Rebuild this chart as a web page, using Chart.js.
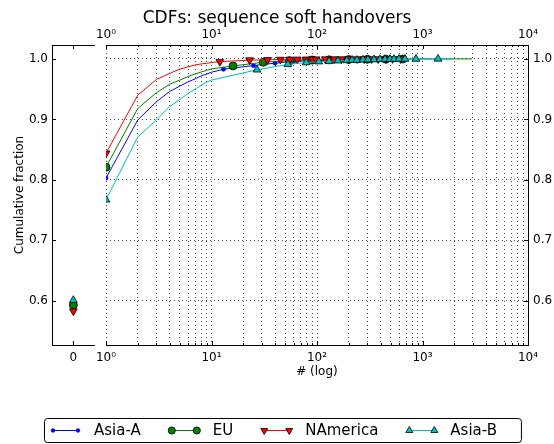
<!DOCTYPE html>
<html>
<head>
<meta charset="utf-8">
<script src="https://cdn.jsdelivr.net/npm/chart.js@4"></script>
<style>
  html, body { margin: 0; padding: 0; background: #fff; }
  #wrap { position: relative; width: 554px; height: 444px; }
  #wrap canvas { position: absolute; top: 0; left: 0; }
</style>
</head>
<body>
<div id="wrap">
  <canvas id="main" width="554" height="444"></canvas>
  <canvas id="zero" width="100" height="444"></canvas>
</div>
<script>
// series, in legend order
const seriesNames = ["Asia-A", "EU", "NAmerica", "Asia-B"];

// CDF value at x = 0 (left panel)
const zeroValues = [0.590, 0.593, 0.583, 0.601];

// CDF curves (x on log axis)
const asiaAX = [1, 2, 3, 4, 5, 6, 7, 8, 9, 10, 13, 25, 40, 60, 90, 130, 200, 300, 420, 550, 650];
const asiaAY = [0.803, 0.899, 0.929, 0.946, 0.955, 0.962, 0.967, 0.972, 0.975, 0.978, 0.983, 0.989, 0.993, 0.996, 0.997, 0.998, 0.999, 0.9994, 0.9997, 0.9999, 1.0];

const euX = [1, 2, 3, 4, 5, 6, 7, 8, 9, 10, 16, 31, 55, 90, 130, 200, 300, 450, 650, 2950];
const euY = [0.821, 0.918, 0.944, 0.958, 0.965, 0.971, 0.975, 0.9785, 0.981, 0.9835, 0.9884, 0.9945, 0.997, 0.998, 0.9985, 0.999, 0.9993, 0.9996, 0.9998, 1.0];

const naX = [1, 2, 3, 4, 5, 6, 7, 8, 9, 10, 12, 23, 34, 45, 55, 65, 79, 90, 98, 120, 145, 170, 200, 240, 280, 330, 380, 450, 520, 620, 700];
const naY = [0.844, 0.940, 0.966, 0.976, 0.983, 0.987, 0.990, 0.9917, 0.9928, 0.994, 0.9955, 0.998, 0.9985, 0.999, 0.9992, 0.9993, 0.9994, 0.9995, 0.9996, 0.9997, 0.9997, 0.9998, 0.9998, 0.9998, 0.9999, 0.9999, 0.9999, 1.0, 1.0, 1.0, 1.0];

const asiaBX = [1, 2, 3, 4, 5, 6, 7, 8, 9, 10, 27, 53, 79, 104, 130, 158, 192, 215, 239, 273, 304, 347, 395, 441, 492, 537, 599, 682, 868, 1403, 1950];
const asiaBY = [0.767, 0.871, 0.899, 0.921, 0.933, 0.943, 0.950, 0.9565, 0.9615, 0.965, 0.982, 0.991, 0.994, 0.9955, 0.996, 0.997, 0.9975, 0.998, 0.998, 0.9985, 0.9988, 0.999, 0.9992, 0.9993, 0.9995, 0.9996, 0.9997, 0.9998, 0.9999, 1.0, 1.0];

const yTicks = [0.6, 0.7, 0.8, 0.9, 1.0];
const decadeLabels = ["10\u2070", "10\u00b9", "10\u00b2", "10\u00b3", "10\u2074"];

const curvesX = [asiaAX, euX, naX, asiaBX];
const curvesY = [asiaAY, euY, naY, asiaBY];

const colors = ["#0000ff", "#008000", "#ff0000", "#00bfbf"];
const markers = [
  { style: "circle", radius: 2, rotation: 0, edge: "#0000ff" },
  { style: "circle", radius: 4, rotation: 0, edge: "#000" },
  { style: "triangle", radius: 4.5, rotation: 180, edge: "#000" },
  { style: "triangle", radius: 4.5, rotation: 0, edge: "#000" },
];

Chart.defaults.font.family = "DejaVu Sans";
Chart.defaults.font.size = 12;
Chart.defaults.color = "#000";

const Y_MIN = 0.527, Y_MAX = 1.023;
const gridColor = "rgba(0,0,0,0.7)";
const gridDash = [1, 3];

// log tick positions 1,2,..9,10,20,..10000
const logTicks = [];
for (let e = 0; e < 4; e++) for (let m = 1; m < 10; m++) logTicks.push(m * Math.pow(10, e));
logTicks.push(10000);

function isDecade(v) {
  const r = Math.round(Math.log10(v));
  return Math.pow(10, r) === v;
}
function decadeLabel(v) {
  return isDecade(v) ? decadeLabels[Math.round(Math.log10(v))] : "";
}

// matplotlib-like inward tick marks
const innerTicks = {
  id: "innerTicks",
  afterDraw(chart, args, opts) {
    const { ctx, chartArea: a, scales } = chart;
    ctx.save();
    ctx.strokeStyle = "#000";
    ctx.lineWidth = 1;
    const line = (x1, y1, x2, y2) => { ctx.beginPath(); ctx.moveTo(x1, y1); ctx.lineTo(x2, y2); ctx.stroke(); };
    (opts.scales || []).forEach(id => {
      const s = scales[id];
      if (!s) return;
      s.ticks.forEach(t => {
        const len = (s.type === "logarithmic" && !isDecade(t.value)) ? 2 : 4;
        const p = Math.round(s.getPixelForValue(t.value)) + 0.5;
        if (s.position === "bottom") line(p, a.bottom, p, a.bottom - len);
        else if (s.position === "top") line(p, a.top, p, a.top + len);
        else if (s.position === "left") line(a.left, p, a.left + len, p);
        else line(a.right, p, a.right - len, p);
      });
    });
    ctx.restore();
  }
};

// boxed legend with line + two markers per entry
const boxLegend = {
  id: "boxLegend",
  afterDraw(chart) {
    const ctx = chart.ctx;
    ctx.save();
    ctx.font = "15px 'DejaVu Sans'";
    ctx.textBaseline = "middle";
    const cy = 430, left = 44, top = 418, h = 24;
    let x = left + 9;
    const items = [];
    seriesNames.forEach((name, i) => {
      items.push({ x, i, name });
      x += 25 + 16 + ctx.measureText(name).width + 31;
    });
    const right = x - 31 + 24;
    ctx.fillStyle = "#fff";
    ctx.strokeStyle = "#000";
    ctx.lineWidth = 1;
    ctx.beginPath();
    ctx.roundRect(left + 0.5, top + 0.5, right - left, h, 3);
    ctx.fill();
    ctx.stroke();
    items.forEach(it => {
      const m = markers[it.i];
      ctx.strokeStyle = colors[it.i];
      ctx.lineWidth = 1;
      ctx.beginPath();
      ctx.moveTo(it.x, cy + 0.5);
      ctx.lineTo(it.x + 25, cy + 0.5);
      ctx.stroke();
      [it.x, it.x + 25].forEach(px => {
        ctx.fillStyle = colors[it.i];
        ctx.strokeStyle = m.edge;
        ctx.lineWidth = 0.8;
        Chart.helpers.drawPoint(ctx, { pointStyle: m.style, radius: m.radius * 0.9, rotation: m.rotation, borderWidth: 0.8 }, px, cy + 0.5);
      });
      ctx.fillStyle = "#000";
      ctx.fillText(it.name, it.x + 41, cy + 1);
    });
    ctx.restore();
  }
};

const mainDatasets = seriesNames.map((name, i) => ({
  label: name,
  data: curvesX[i].map((x, j) => ({ x: x, y: curvesY[i][j] })),
  borderColor: colors[i],
  borderWidth: 1,
  fill: false,
  tension: 0,
  order: 4 - i,
  pointStyle: markers[i].style,
  pointRotation: markers[i].rotation,
  pointBackgroundColor: colors[i],
  pointBorderColor: markers[i].edge,
  pointBorderWidth: 0.8,
  pointRadius: ctx => {
    const n = ctx.dataset.data.length;
    const x = ctx.raw ? ctx.raw.x : 0;
    const shown = x === 1 || (x > 10 && ctx.dataIndex < n - 1);
    return shown ? markers[i].radius : 0;
  },
}));

new Chart(document.getElementById("main"), {
  type: "line",
  data: { datasets: mainDatasets },
  options: {
    responsive: false,
    animation: false,
    events: [],
    layout: { padding: { left: 0, right: 0, top: 0, bottom: 65 } },
    plugins: {
      legend: { display: false },
      tooltip: { enabled: false },
      title: {
        display: true,
        text: "CDFs: sequence soft handovers",
        font: { size: 17, weight: "normal" },
        color: "#000",
        padding: { top: 8, bottom: 0 },
      },
      innerTicks: { scales: ["x", "x2", "y2"] },
    },
    scales: {
      x: {
        type: "logarithmic", position: "bottom", min: 1, max: 10000,
        afterBuildTicks: s => { s.ticks = logTicks.map(v => ({ value: v })); },
        afterFit: s => { s.height = 34; },
        ticks: { autoSkip: false, maxRotation: 0, padding: 6, callback: v => decadeLabel(v) },
        grid: { color: gridColor, lineWidth: 1, drawTicks: false },
        border: { display: true, color: "#000", width: 1, dash: gridDash },
        title: { display: true, text: "# (log)", font: { size: 12 }, padding: { top: 0, bottom: 0 } },
      },
      x2: {
        type: "logarithmic", position: "top", min: 1, max: 10000,
        afterBuildTicks: s => { s.ticks = logTicks.map(v => ({ value: v })); },
        afterFit: s => { s.height = 16.6; },
        ticks: { autoSkip: false, maxRotation: 0, padding: 3, callback: v => decadeLabel(v) },
        grid: { drawOnChartArea: false, drawTicks: false },
        border: { display: true, color: "#000", width: 1 },
      },
      y: {
        type: "linear", position: "left", min: Y_MIN, max: Y_MAX,
        afterBuildTicks: s => { s.ticks = yTicks.map(v => ({ value: v })); },
        afterFit: s => { s.width = 106; },
        ticks: { display: false },
        grid: { color: gridColor, lineWidth: 1, drawTicks: false },
        border: { display: false, dash: gridDash },
      },
      y2: {
        type: "linear", position: "right", min: Y_MIN, max: Y_MAX,
        afterBuildTicks: s => { s.ticks = yTicks.map(v => ({ value: v })); },
        afterFit: s => { s.width = 26; },
        ticks: { padding: 5, callback: v => v.toFixed(1) },
        grid: { drawOnChartArea: false, drawTicks: false },
        border: { display: true, color: "#000", width: 1 },
      },
    },
  },
  plugins: [innerTicks, boxLegend],
});

// left panel: value at x = 0
const zeroDatasets = seriesNames.map((name, i) => ({
  label: name,
  data: [{ x: 0, y: zeroValues[i] }],
  order: 4 - i,
  pointStyle: markers[i].style,
  pointRotation: markers[i].rotation,
  pointBackgroundColor: colors[i],
  pointBorderColor: markers[i].edge,
  pointBorderWidth: 0.8,
  pointRadius: markers[i].radius,
}));

new Chart(document.getElementById("zero"), {
  type: "scatter",
  data: { datasets: zeroDatasets },
  options: {
    responsive: false,
    animation: false,
    events: [],
    layout: { padding: { left: 0, right: 5, top: 0, bottom: 65 } },
    plugins: {
      legend: { display: false },
      tooltip: { enabled: false },
      innerTicks: { scales: ["x", "x2", "y"] },
    },
    scales: {
      x: {
        type: "linear", position: "bottom", min: -1, max: 1,
        afterBuildTicks: s => { s.ticks = [{ value: 0 }]; },
        afterFit: s => { s.height = 34; },
        ticks: { padding: 6, callback: v => String(v) },
        grid: { drawOnChartArea: false, drawTicks: false },
        border: { display: true, color: "#000", width: 1 },
      },
      x2: {
        type: "linear", position: "top", min: -1, max: 1,
        afterBuildTicks: s => { s.ticks = [{ value: 0 }]; },
        afterFit: s => { s.height = 45; },
        ticks: { display: false },
        grid: { drawOnChartArea: false, drawTicks: false },
        border: { display: true, color: "#000", width: 1 },
      },
      y: {
        type: "linear", position: "left", min: Y_MIN, max: Y_MAX,
        afterBuildTicks: s => { s.ticks = yTicks.map(v => ({ value: v })); },
        afterFit: s => { s.width = 52; },
        ticks: { padding: 4, callback: v => v.toFixed(1) },
        grid: { drawOnChartArea: false, drawTicks: false },
        border: { display: true, color: "#000", width: 1 },
        title: { display: true, text: "Cumulative fraction", font: { size: 12 }, padding: { top: 13, bottom: 0 } },
      },
    },
  },
  plugins: [innerTicks],
});
</script>
</body>
</html>
